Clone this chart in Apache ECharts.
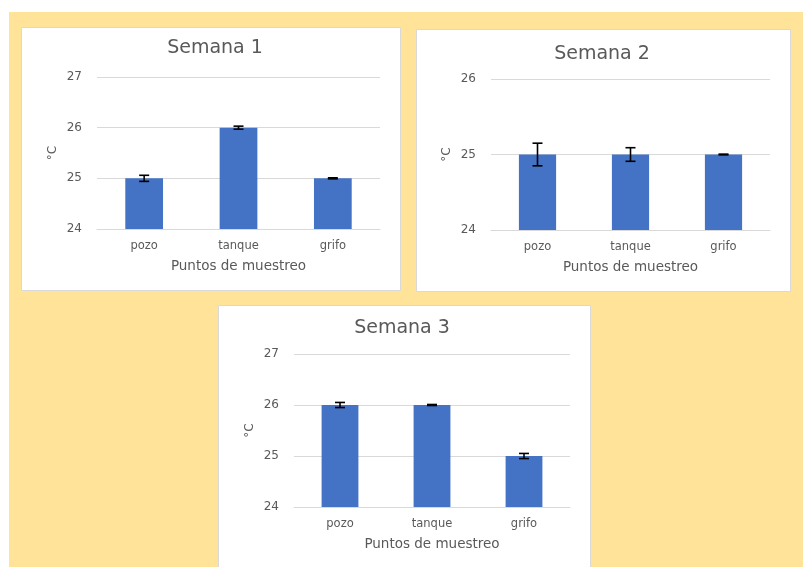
<!DOCTYPE html>
<html>
<head>
<meta charset="utf-8">
<script src="https://cdn.jsdelivr.net/npm/echarts@6/dist/echarts.min.js"></script>
<style>
html,body{margin:0;padding:0;background:#ffffff;}
#c{width:803px;height:567px;}
</style>
</head>
<body>
<div id="c"></div>
<script>
const categories = ['pozo', 'tanque', 'grifo'];
const titles = ['Semana 1', 'Semana 2', 'Semana 3'];
const week1 = [25, 26, 25];
const week1Err = [0.06, 0.03, 0.01];
const week2 = [25, 25, 25];
const week2Err = [0.15, 0.09, 0.005];
const week3 = [26, 26, 25];
const week3Err = [0.05, 0.01, 0.05];
const yMax = [27, 26, 27];
const yMin = 24;
const xName = 'Puntos de muestreo';
const yName = '°C';

const FONT = 'DejaVu Sans';
const TXT = '#595959';
const BAR = '#4472C4';

const panels = [
  {x: 21, y: 27, w: 379, h: 263},
  {x: 416, y: 29, w: 374, h: 262},
  {x: 218, y: 305, w: 372, h: 270}
];
const grids = [
  {left: 97, top: 77, width: 283, height: 152},
  {left: 491, top: 79, width: 279, height: 151},
  {left: 294, top: 354, width: 276, height: 153}
];
const titlePos = [{x: 215, y: 48}, {x: 602, y: 54}, {x: 402, y: 328}];

const values = [week1, week2, week3];
const errs = [week1Err, week2Err, week3Err];

const graphic = [{
  type: 'rect', z: -100, silent: true,
  shape: {x: 9, y: 12, width: 794, height: 555},
  style: {fill: '#FEE399'}
}];
panels.forEach(p => graphic.push({
  type: 'rect', z: -90, silent: true,
  shape: {x: p.x + 0.5, y: p.y + 0.5, width: p.w, height: p.h},
  style: {fill: '#ffffff', stroke: '#D9D9D9', lineWidth: 1}
}));

const option = {
  animation: false,
  graphic: graphic,
  title: titles.map((t, i) => ({
    text: t, left: titlePos[i].x, top: titlePos[i].y, padding: 0,
    textAlign: 'center', textVerticalAlign: 'middle',
    textStyle: {fontFamily: FONT, fontSize: 19, fontWeight: 'normal', color: TXT}
  })),
  grid: grids.map(g => Object.assign({containLabel: false}, g)),
  xAxis: grids.map((g, i) => ({
    type: 'category', gridIndex: i, data: categories,
    axisLine: {show: true, lineStyle: {color: '#D9D9D9', width: 1}},
    axisTick: {show: false},
    axisLabel: {fontFamily: FONT, fontSize: 11.5, color: TXT, margin: 11},
    name: xName, nameLocation: 'middle', nameGap: 30,
    nameTextStyle: {fontFamily: FONT, fontSize: 13.5, color: TXT}
  })),
  yAxis: grids.map((g, i) => ({
    type: 'value', gridIndex: i, min: yMin, max: yMax[i], interval: 1,
    axisLine: {show: false}, axisTick: {show: false},
    splitLine: {lineStyle: {color: '#D9D9D9', width: 1}},
    axisLabel: {fontFamily: FONT, fontSize: 12, color: TXT, margin: 15},
    name: yName, nameLocation: 'middle', nameGap: 38, nameRotate: 90,
    nameTextStyle: {fontFamily: FONT, fontSize: 12, color: TXT}
  })),
  series: []
};

values.forEach((vals, i) => {
  option.series.push({
    type: 'bar', xAxisIndex: i, yAxisIndex: i, data: vals,
    barWidth: '40%', itemStyle: {color: BAR}, z: 2
  });
  option.series.push({
    type: 'custom', xAxisIndex: i, yAxisIndex: i, z: 5,
    data: vals.map((v, k) => [k, v - errs[i][k], v + errs[i][k]]),
    renderItem: function (params, api) {
      const lo = api.coord([api.value(0), api.value(1)]);
      const hi = api.coord([api.value(0), api.value(2)]);
      const hw = 5;
      const st = {stroke: '#000000', lineWidth: 1.6, fill: null};
      return {
        type: 'group',
        children: [
          {type: 'line', shape: {x1: hi[0], y1: hi[1], x2: lo[0], y2: lo[1]}, style: st},
          {type: 'line', shape: {x1: hi[0] - hw, y1: hi[1], x2: hi[0] + hw, y2: hi[1]}, style: st},
          {type: 'line', shape: {x1: lo[0] - hw, y1: lo[1], x2: lo[0] + hw, y2: lo[1]}, style: st}
        ]
      };
    }
  });
});

const chart = echarts.init(document.getElementById('c'), null, {renderer: 'canvas'});
chart.setOption(option);
</script>
</body>
</html>
